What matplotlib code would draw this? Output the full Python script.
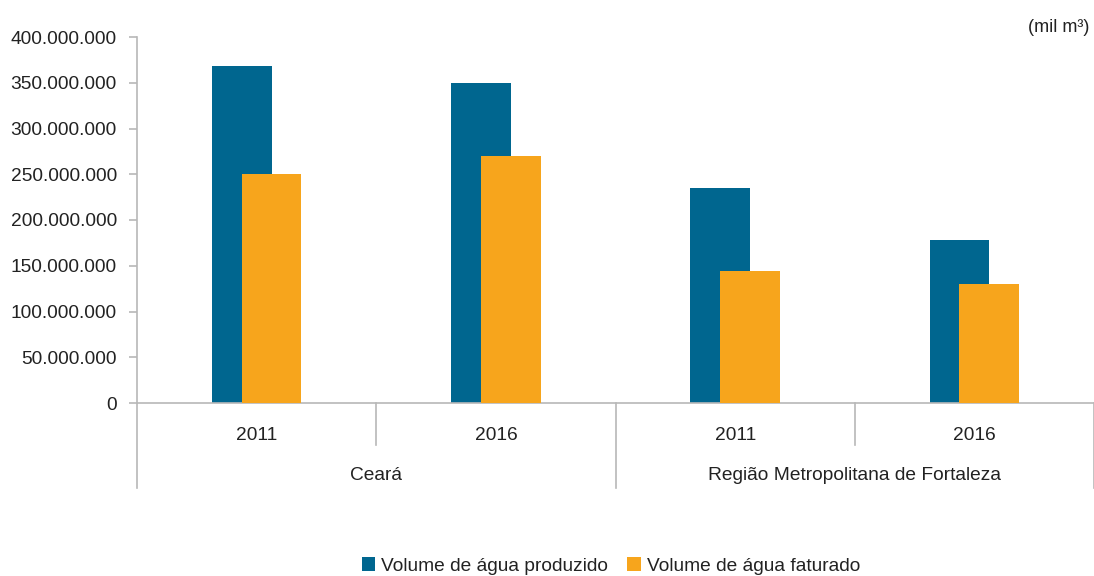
import matplotlib
matplotlib.use("Agg")
import matplotlib.pyplot as plt
from matplotlib.ticker import FuncFormatter
from matplotlib.patches import Patch

plt.rcParams['font.family'] = ['Liberation Sans', 'DejaVu Sans']

groups = ["Ceará", "Região Metropolitana de Fortaleza"]
years = ["2011", "2016", "2011", "2016"]
produzido = [368000000, 350000000, 235000000, 178000000]
faturado = [250000000, 270000000, 144000000, 130000000]
series_names = ["Volume de água produzido", "Volume de água faturado"]
colors = ["#00668F", "#F7A51C"]
yticks = [0, 50000000, 100000000, 150000000, 200000000, 250000000, 300000000, 350000000, 400000000]

W, H = 1094, 576
fig = plt.figure(figsize=(W / 100, H / 100), dpi=100)
ax = fig.add_axes([137 / W, (H - 403) / H, (W - 137) / W, (403 - 37) / H])

x = list(range(len(years)))
bw = 0.25
off = 0.062
ax.bar([i - off for i in x], produzido, width=bw, color=colors[0], zorder=2)
ax.bar([i + off for i in x], faturado, width=bw, color=colors[1], zorder=3)

ax.set_xlim(-0.5, len(years) - 0.5)
ax.set_ylim(0, 400000000)
ax.set_yticks(yticks)
ax.yaxis.set_major_formatter(FuncFormatter(lambda v, p: f"{int(v):,}".replace(",", ".")))

gray = "#B8B8B8"
for s in ["top", "right"]:
    ax.spines[s].set_visible(False)
for s in ["left", "bottom"]:
    ax.spines[s].set_color(gray)
    ax.spines[s].set_linewidth(1.2)
ax.tick_params(axis='y', colors=gray, labelcolor="#222222", labelsize=13.8, length=6, width=1.2, pad=8.5)
ax.set_xticks(x)
ax.set_xticklabels(years)
ax.tick_params(axis='x', length=0, labelsize=13.8, labelcolor="#222222", pad=17)

tr = ax.get_xaxis_transform()
# separators between years (short) and between groups (long)
for b in [0.5, 2.5]:
    ax.plot([b, b], [0, -0.115], transform=tr, color=gray, lw=1.2, clip_on=False)
for b in [-0.5, 1.5, 3.5]:
    ax.plot([b, b], [0, -0.232], transform=tr, color=gray, lw=1.2, clip_on=False)
for gi, g in enumerate(groups):
    ax.text(gi * 2 + 0.5, -0.197, g, transform=tr, ha='center', va='center',
            fontsize=13.8, color="#222222")

fig.text(1089 / W, 1 - 27 / H, "(mil m³)", ha='right', va='center', fontsize=13, color="#222222")

handles = [Patch(facecolor=c, edgecolor='none') for c in colors]
fig.legend(handles, series_names, loc='center', bbox_to_anchor=(611 / W, 1 - 566 / H), ncol=2,
           frameon=False, fontsize=13.8, handlelength=0.7, handleheight=0.7, handletextpad=0.3,
           columnspacing=1.0, labelcolor="#222222")

fig.savefig("out.png", dpi=100)
